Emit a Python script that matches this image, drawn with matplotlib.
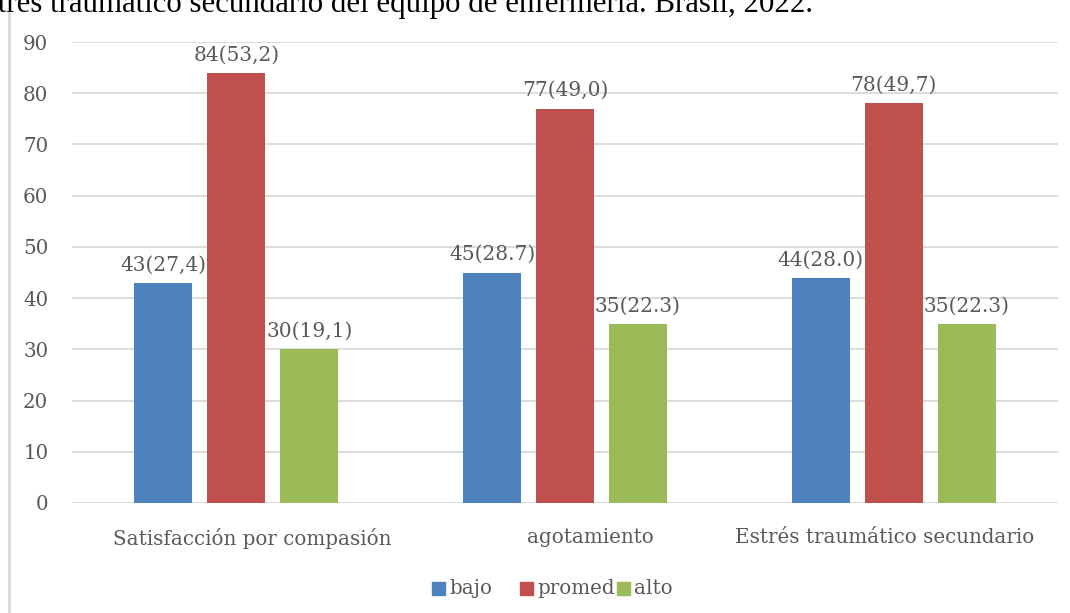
import numpy as np
import matplotlib.pyplot as plt
import matplotlib.transforms as mtransforms
from matplotlib.patches import Rectangle
from matplotlib.lines import Line2D

# datos
categorias = ["Satisfacción por compasión", "agotamiento", "Estrés traumático secundario"]
series = ["bajo", "promed", "alto"]
bajo = [43, 45, 44]
promed = [84, 77, 78]
alto = [30, 35, 35]
etq_bajo = ["43(27,4)", "45(28.7)", "44(28.0)"]
etq_promed = ["84(53,2)", "77(49,0)", "78(49,7)"]
etq_alto = ["30(19,1)", "35(22.3)", "35(22.3)"]
colores = ["#4F81BD", "#C0504D", "#9BBB59"]

GRIS = "#595959"
FS = 14.3
plt.rcParams["font.family"] = ["DejaVu Serif"]

fig = plt.figure(figsize=(10.7, 6.13), dpi=100)
ax = fig.add_axes([72 / 1070, 110 / 613, 986 / 1070, 461 / 613])

x = np.arange(len(categorias))
ancho = 0.176
paso = 0.222
for i, (vals, etqs) in enumerate(zip([bajo, promed, alto], [etq_bajo, etq_promed, etq_alto])):
    pos = x + (i - 1) * paso
    barras = ax.bar(pos, vals, width=ancho, color=colores[i], zorder=3)
    ax.bar_label(barras, labels=etqs, padding=6, fontsize=14.5, color=GRIS)

ax.set_xlim(-0.5, 2.5)
ax.set_ylim(0, 90)
ax.set_yticks(range(0, 91, 10))
ax.set_xticks(x)
ax.set_xticklabels(categorias)
ax.tick_params(axis="both", length=0, labelsize=FS, labelcolor=GRIS)
ax.tick_params(axis="y", pad=17)
ax.tick_params(axis="x", pad=18)
ax.grid(axis="y", color="#D9D9D9", linewidth=1.3, zorder=0)
for s in ax.spines.values():
    s.set_visible(False)

# las etiquetas de categoría del original no están centradas exactamente
desplaz = [0.16, 0.25, -0.09]
for lbl, d in zip(ax.get_xticklabels(), desplaz):
    lbl.set_transform(lbl.get_transform() + mtransforms.ScaledTranslation(d, 0, fig.dpi_scale_trans))

# leyenda manual (estilo Excel)
leg_x = [432, 520, 617]
for xx, nombre, c in zip(leg_x, series, colores):
    fig.patches.append(Rectangle((xx / 1070, (613 - 595) / 613), 13 / 1070, 13 / 613,
                                 transform=fig.transFigure, color=c))
    fig.text((xx + 17) / 1070, (613 - 588) / 613, nombre, fontsize=FS, color=GRIS,
             va="center", ha="left")

# borde izquierdo y título recortado
fig.add_artist(Line2D([9 / 1070, 9 / 1070], [0, (613 - 13) / 613],
                      transform=fig.transFigure, color="#D9D9D9", linewidth=2))
fig.text(813 / 1070, (613 - 12) / 613,
         "Estrés traumático secundario del equipo de enfermería. Brasil, 2022.",
         fontsize=22.25, family="Liberation Serif", color="black", ha="right", va="baseline")

fig.savefig("out.png", dpi=100)
